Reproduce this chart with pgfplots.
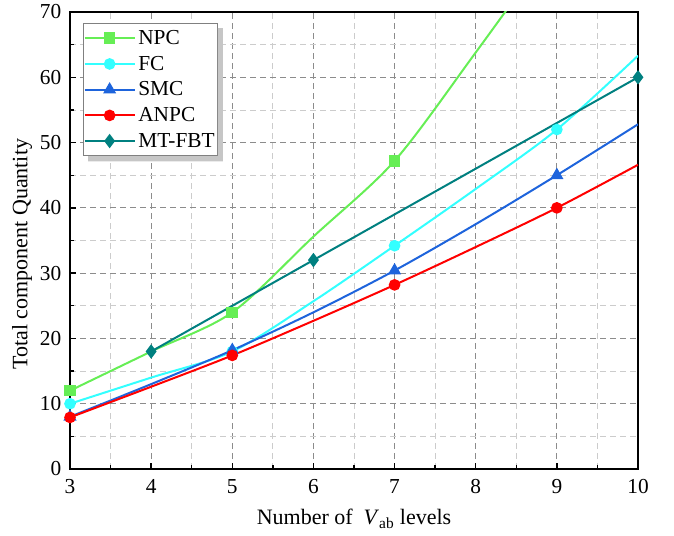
\documentclass[border=0pt]{standalone}
\usepackage{fontspec}
\setmainfont{Liberation Serif}
\usepackage{pgfplots}
\pgfplotsset{compat=1.18}

\definecolor{cnpc}{RGB}{102,238,85}
\definecolor{cfc}{RGB}{51,255,255}
\definecolor{csmc}{RGB}{30,100,220}
\definecolor{canpc}{RGB}{255,0,0}
\definecolor{cmt}{RGB}{0,128,128}

\begin{document}
\begin{tikzpicture}
\begin{pgfinterruptboundingbox}
\begin{axis}[
    scale only axis,
    width=426pt, height=342.75pt,
    xmin=3, xmax=10, ymin=0, ymax=70,
    xtick={3,...,10}, ytick={0,10,...,70},
    minor x tick num=1, minor y tick num=1,
    tick align=inside, tick pos=left,
    major tick length=4.5pt, minor tick length=3pt,
    every tick/.style={black, line width=1pt},
    axis line style={line width=1.1pt},
    grid=both,
    major grid style={gray!90, line width=0.6pt, dash pattern=on 4.5pt off 3pt},
    minor grid style={gray!40, line width=0.6pt, dash pattern=on 4.5pt off 3pt},
    tick label style={font=\fontsize{16}{18}\selectfont},
    xticklabel style={yshift=-4pt},
    yticklabel style={xshift=-3pt},
    /pgf/number format/assume math mode=true,
    xlabel={Number of \ \textit{V}\textsubscript{ab} levels},
    ylabel={Total component Quantity},
    label style={font=\fontsize{16.5}{18}\selectfont},
    xlabel style={yshift=-5pt},
    ylabel style={at={(ticklabel cs:0.47)}, yshift=-1pt},
    every axis plot/.append style={line width=1.5pt, mark size=3.6pt, smooth},
    legend style={name=leg, at={(0.023,0.976)}, anchor=north west, draw=gray,
        line width=0.8pt, fill=white, font=\fontsize{16}{18}\selectfont,
        row sep=3.2pt, inner xsep=0pt, inner ysep=3pt},
    legend cell align=left,
    legend image code/.code={
        \draw[sharp plot] (0cm,0cm) -- (1.32cm,0cm);
        \draw[sharp plot, mark indices={1}] plot coordinates {(0.66cm,0cm)};},
]
\addplot[cnpc, mark=square*, mark indices={1,3,5}] coordinates {
    (3,12) (4,18) (5,24) (6,35.6) (7,47.2) (8,63.8) (9,81)
};
\addlegendentry{NPC}
\addplot[cfc, mark=*, mark indices={1,3,5,7}] coordinates {
    (3,10) (4,14) (5,18) (6,25.7) (7,34.2) (8,42.9) (9,52) (10,63.3)
};
\addlegendentry{FC}
\addplot[csmc, mark=triangle*, mark size=4.2pt, mark indices={1,3,5,7}] coordinates {
    (3,8) (4,13) (5,18.2) (6,24) (7,30.4) (8,37.5) (9,45) (10,52.8)
};
\addlegendentry{SMC}
\addplot[canpc, mark=*, mark indices={1,3,5,7}] coordinates {
    (3,7.9) (4,12.6) (5,17.4) (6,22.7) (7,28.2) (8,34) (9,40) (10,46.6)
};
\addlegendentry{ANPC}
\addplot[cmt, mark=diamond*, mark size=4.2pt, mark indices={1,3,7}] coordinates {
    (4,18) (5,25) (6,32) (7,39) (8,46) (9,53) (10,60)
};
\addlegendentry{MT-FBT}
\end{axis}
% legend shadow, only the strips to the right of and below the box
\fill[gray!45] ([yshift=-3.8pt]leg.north east) -- ([shift={(3.8pt,-3.8pt)}]leg.north east)
    -- ([shift={(3.8pt,-3.8pt)}]leg.south east) -- ([shift={(3.8pt,-3.8pt)}]leg.south west)
    -- ([xshift=3.8pt]leg.south west) -- (leg.south east) -- cycle;
\end{pgfinterruptboundingbox}
\path[use as bounding box] ([xshift=-52.5pt,yshift=-49.5pt]current axis.south west)
    rectangle ([xshift=27pt,yshift=9pt]current axis.north east);
\end{tikzpicture}
\end{document}
